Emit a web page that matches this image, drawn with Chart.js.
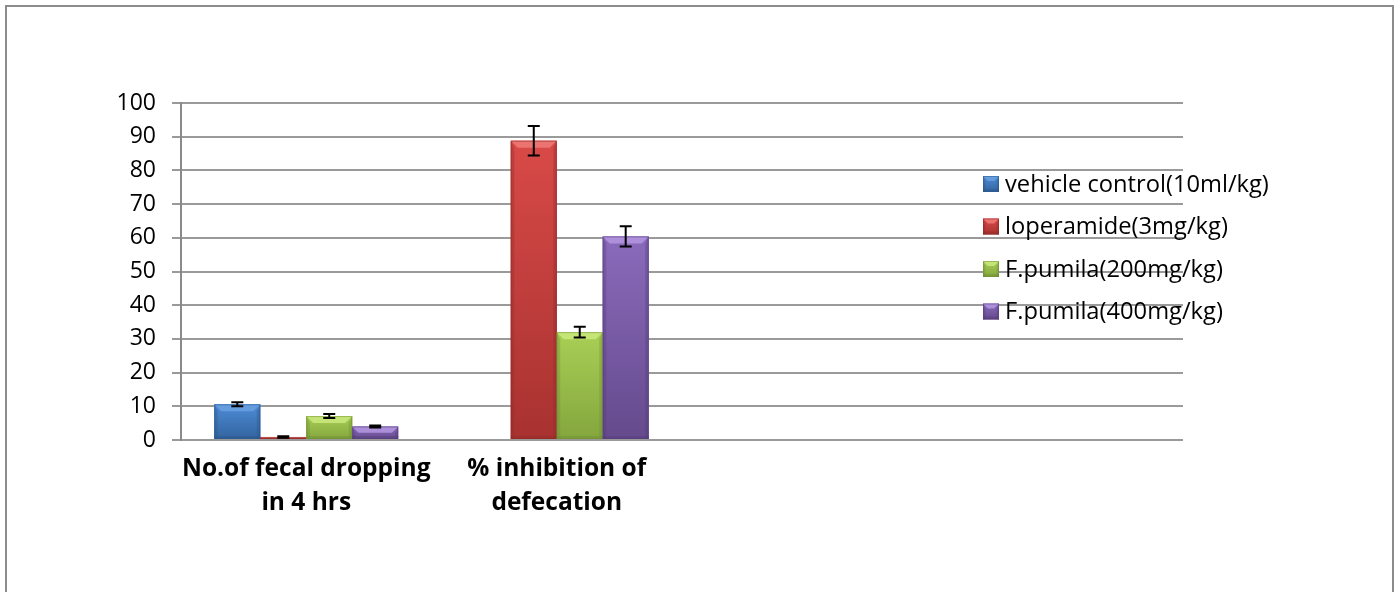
<!DOCTYPE html>
<html><head><meta charset="utf-8">
<script src="https://cdn.jsdelivr.net/npm/chart.js@4.4.1/dist/chart.umd.min.js"></script>
<style>html,body{margin:0;padding:0;background:#fff;}#wrap{width:1400px;height:592px;}</style>
</head><body><div id="wrap"><canvas id="c" width="1400" height="592"></canvas></div>
<script>
// ---- data ----
const categories = [['No.of fecal dropping', 'in 4 hrs'], ['% inhibition of', 'defecation'], '', ''];
const seriesNames = ['vehicle control(10ml/kg)', 'loperamide(3mg/kg)', 'F.pumila(200mg/kg)', 'F.pumila(400mg/kg)'];
const vehicleValues    = [10.6, 0, null, null];
const loperamideValues = [0.9, 88.8, null, null];
const pumila200Values  = [7.1, 32.0, null, null];
const pumila400Values  = [4.0, 60.4, null, null];
const vehicleErr    = [0.6, 0, null, null];
const loperamideErr = [0.2, 4.4, null, null];
const pumila200Err  = [0.6, 1.6, null, null];
const pumila400Err  = [0.3, 3.0, null, null];
const yTickMin = 0, yTickMax = 100, yTickStep = 10;

// ---- styles ----
const palette = [
  {base:'#3f7bc6', light:'#6aa0e0', top:'#4e8bd6', bottom:'#32649f', dark:'#2b5687'},
  {base:'#c93f3d', light:'#ee7a78', top:'#d84a48', bottom:'#a83230', dark:'#8e2a28'},
  {base:'#9bc24b', light:'#cbe97e', top:'#a9cf55', bottom:'#84a63e', dark:'#6e8c33'},
  {base:'#7b5ba8', light:'#b496e0', top:'#8a6abb', bottom:'#654a8d', dark:'#543d77'}
];
const errors = [vehicleErr, loperamideErr, pumila200Err, pumila400Err];
const FONT = '"Open Sans", "Liberation Sans", sans-serif';

function bevelRect(ctx, x0, y0, x1, y1, c, b) {
  const h = y1 - y0, w = x1 - x0;
  if (h <= 0 || w <= 0) return;
  b = Math.min(b, h / 2, w / 2);
  const g = ctx.createLinearGradient(0, y0, 0, y1);
  g.addColorStop(0, c.top); g.addColorStop(1, c.bottom);
  ctx.fillStyle = g; ctx.fillRect(x0, y0, w, h);
  ctx.fillStyle = c.light; ctx.globalAlpha = 0.85;
  ctx.beginPath(); ctx.moveTo(x0, y0); ctx.lineTo(x1, y0); ctx.lineTo(x1 - b, y0 + b); ctx.lineTo(x0 + b, y0 + b); ctx.closePath(); ctx.fill();
  ctx.fillStyle = c.dark; ctx.globalAlpha = 0.35;
  ctx.beginPath(); ctx.moveTo(x0, y0); ctx.lineTo(x0 + b * 0.5, y0 + b); ctx.lineTo(x0 + b * 0.5, y1); ctx.lineTo(x0, y1); ctx.closePath(); ctx.fill();
  ctx.beginPath(); ctx.moveTo(x1, y0); ctx.lineTo(x1 - b * 0.5, y0 + b); ctx.lineTo(x1 - b * 0.5, y1); ctx.lineTo(x1, y1); ctx.closePath(); ctx.fill();
  ctx.globalAlpha = 0.4;
  ctx.fillRect(x0, y1 - Math.min(3, h / 3), w, Math.min(3, h / 3));
  ctx.globalAlpha = 1;
  ctx.strokeStyle = c.dark; ctx.lineWidth = 1; ctx.globalAlpha = 0.5;
  ctx.strokeRect(x0 + 0.5, y0 + 0.5, w - 1, h - 1);
  ctx.globalAlpha = 1;
}

const framePlugin = {
  id: 'frame',
  beforeDraw(chart) {
    const ctx = chart.ctx;
    ctx.save();
    ctx.fillStyle = '#fff'; ctx.fillRect(0, 0, chart.width, chart.height);
    ctx.strokeStyle = '#8c8c8c'; ctx.lineWidth = 2;
    ctx.strokeRect(6, 6, 1387, 620);
    ctx.restore();
  }
};

const barDecorPlugin = {
  id: 'barDecor',
  afterDatasetsDraw(chart) {
    const ctx = chart.ctx, y = chart.scales.y;
    ctx.save();
    chart.data.datasets.forEach((ds, di) => {
      const meta = chart.getDatasetMeta(di);
      meta.data.forEach((bar, i) => {
        const v = ds.data[i];
        if (v === null || v === undefined || v === 0) return;
        const p = bar.getProps(['x', 'y', 'base', 'width'], true);
        bevelRect(ctx, p.x - p.width / 2, p.y, p.x + p.width / 2, p.base, palette[di], 7);
      });
    });
    chart.data.datasets.forEach((ds, di) => {
      const meta = chart.getDatasetMeta(di);
      meta.data.forEach((bar, i) => {
        const v = ds.data[i], e = errors[di][i];
        if (v === null || v === undefined || !e) return;
        const p = bar.getProps(['x'], true);
        const yt = y.getPixelForValue(v + e), yb = y.getPixelForValue(v - e);
        ctx.strokeStyle = '#000'; ctx.lineWidth = 2;
        ctx.beginPath();
        ctx.moveTo(p.x, yt); ctx.lineTo(p.x, yb);
        ctx.moveTo(p.x - 6, yt); ctx.lineTo(p.x + 6, yt);
        ctx.moveTo(p.x - 6, yb); ctx.lineTo(p.x + 6, yb);
        ctx.stroke();
      });
    });
    ctx.restore();
  }
};

const legendPlugin = {
  id: 'sideLegend',
  afterDraw(chart) {
    const ctx = chart.ctx;
    ctx.save();
    ctx.font = '23.7px ' + FONT;
    ctx.textAlign = 'left'; ctx.textBaseline = 'middle';
    chart.data.datasets.forEach((ds, di) => {
      const cy = 184 + di * 42.5;
      bevelRect(ctx, 983, cy - 8, 999, cy + 8, palette[di], 5);
      ctx.fillStyle = '#000';
      ctx.fillText(ds.label, 1005, cy + 1);
    });
    ctx.restore();
  }
};

const seriesValues = [vehicleValues, loperamideValues, pumila200Values, pumila400Values];

new Chart(document.getElementById('c'), {
  type: 'bar',
  data: {
    labels: categories,
    datasets: seriesNames.map((name, i) => ({
      label: name,
      data: seriesValues[i],
      backgroundColor: palette[i].base,
      borderWidth: 0,
      categoryPercentage: 0.734,
      barPercentage: 1.0
    }))
  },
  options: {
    responsive: false,
    animation: false,
    devicePixelRatio: 1,
    layout: { padding: { left: 0, top: 103, right: 217, bottom: 0 } },
    plugins: { legend: { display: false }, tooltip: { enabled: false } },
    scales: {
      x: {
        grid: { display: false },
        border: { display: false },
        ticks: {
          color: '#000', autoSkip: false, maxRotation: 0, padding: 4,
          font: { family: FONT, size: 24.5, weight: 'bold', lineHeight: 1.4 }
        },
        afterFit(s) { s.height = 152; }
      },
      y: {
        min: yTickMin, max: yTickMax,
        ticks: { stepSize: yTickStep, color: '#000', padding: 16, font: { family: FONT, size: 23 } },
        grid: { color: '#9a9a9a', lineWidth: 2, tickLength: 9 },
        border: { color: '#8a8a8a', width: 2 },
        afterFit(s) { s.width = 181; }
      }
    }
  },
  plugins: [framePlugin, barDecorPlugin, legendPlugin]
});
</script>
</body></html>
